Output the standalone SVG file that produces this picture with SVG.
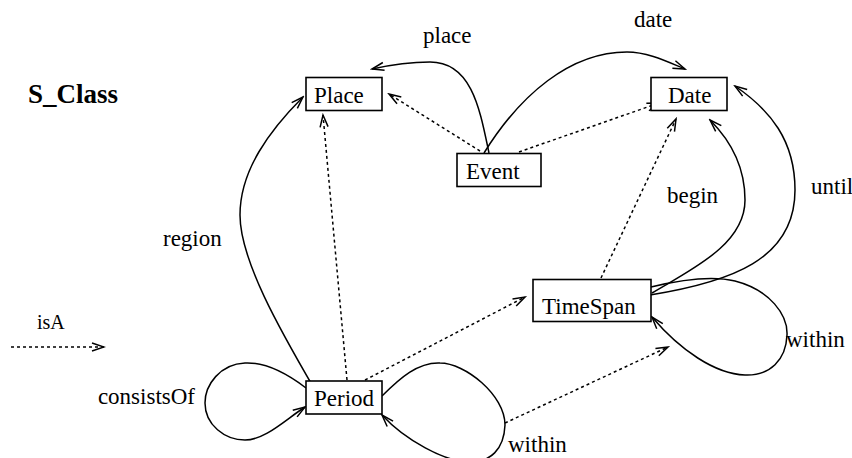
<svg xmlns="http://www.w3.org/2000/svg" width="852" height="458" viewBox="0 0 852 458">
  <style>
    text { font-family: "Liberation Serif", "Times New Roman", serif; fill: #000; }
    .node rect { fill: #fff; stroke: #000; stroke-width: 1.6; }
    .node text { font-size: 23px; }
    .lbl { font-size: 23px; }
    .attr { fill: none; stroke: #000; stroke-width: 1.5; marker-end: url(#open); }
    .isa { fill: none; stroke: #000; stroke-width: 1.5; stroke-dasharray: 3 3; marker-end: url(#open); }
  </style>
  <defs>
    <marker id="open" viewBox="-13 -6 15 12" refX="0" refY="0" markerWidth="15" markerHeight="12" markerUnits="userSpaceOnUse" orient="auto">
      <path d="M-12,-4 L0,0 L-12,4" fill="none" stroke="#000" stroke-width="1.5"/>
    </marker>
  </defs>

  <!-- title and legend -->
  <text x="28" y="103" font-size="27" font-weight="bold">S_Class</text>
  <text x="37" y="329" font-size="20">isA</text>
  <line class="isa" x1="11" y1="347" x2="104" y2="347"/>

  <g id="connectors">
    <!-- attribute links -->
    <path class="attr" d="M489,153 C480,110 472,62 430,62 C410,62 390,65 372,69"/>
    <path class="attr" d="M484,153 C520,95 570,52 627,52 C648,52 668,62 685,69"/>
    <path class="attr" d="M315,390 C280,330 240,260 240,215 C240,170 270,130 303,97"/>
    <path class="attr" d="M652,293 C690,270 745,245 745,200 C745,165 730,140 710,120"/>
    <path class="attr" d="M650,295 C730,282 795,260 795,190 C795,140 770,110 735,86"/>
    <path class="attr" d="M306,388 C285,372 265,362 245,363 C220,364 205,385 205,403 C205,425 225,440 245,440 C265,440 285,420 305,407"/>
    <path class="attr" d="M382,396 C400,378 418,362 440,363 C465,363 505,395 505,425 C504,450 490,462 470,462 C445,462 405,440 382,415"/>
    <path class="attr" d="M651,287 C680,280 710,275 735,281 C770,290 788,315 787,335 C786,360 770,376 745,375 C715,374 680,350 652,317"/>
    <!-- isA links -->
    <path class="isa" d="M480,151 L389,94"/>
    <path class="isa" d="M519,152 L659,103"/>
    <path class="isa" d="M347,380 L323,115"/>
    <path class="isa" d="M365,380 L525,297"/>
    <path class="isa" d="M601,278 L676,119"/>
    <path class="isa" d="M505,423 L668,347"/>
  </g>

  <!-- link labels -->
  <text class="lbl" x="423" y="43">place</text>
  <text class="lbl" x="634" y="27">date</text>
  <text class="lbl" x="163" y="246">region</text>
  <text class="lbl" x="667" y="203">begin</text>
  <text class="lbl" x="811" y="194">until</text>
  <text class="lbl" x="786" y="347">within</text>
  <text class="lbl" x="508" y="452">within</text>
  <text class="lbl" x="195" y="404" text-anchor="end">consistsOf</text>

  <g id="place" class="node">
    <rect x="306" y="77.5" width="76" height="33"/>
    <text x="314" y="103">Place</text>
  </g>
  <g id="date" class="node">
    <rect x="651" y="77.5" width="76" height="33"/>
    <text x="668" y="103">Date</text>
  </g>
  <g id="event" class="node">
    <rect x="457" y="153.5" width="84" height="33"/>
    <text x="466" y="179">Event</text>
  </g>
  <g id="timespan" class="node">
    <rect x="533" y="279.5" width="118" height="42"/>
    <text x="542" y="314">TimeSpan</text>
  </g>
  <g id="period" class="node">
    <rect x="306" y="381" width="76" height="33"/>
    <text x="314" y="406">Period</text>
  </g>
</svg>
